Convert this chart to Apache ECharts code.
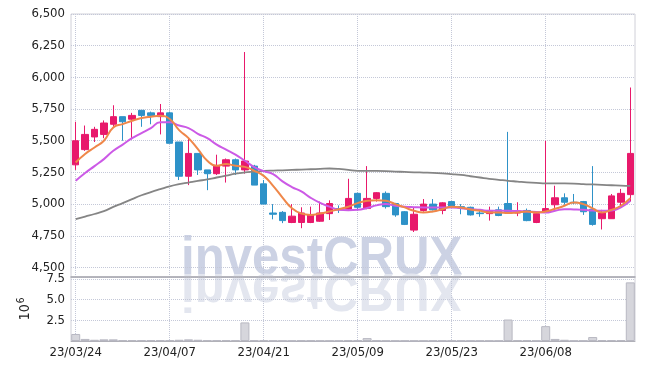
<!DOCTYPE html>
<html>
<head>
<meta charset="utf-8">
<script src="https://cdn.jsdelivr.net/npm/echarts@6/dist/echarts.min.js"></script>
<style>
html, body { margin: 0; padding: 0; background: #fff; }
#chart { width: 645px; height: 370px; }
</style>
</head>
<body>
<div id="chart"></div>
<script>
// 거래일
var dates = ['23/03/24','23/03/27','23/03/28','23/03/29','23/03/30','23/03/31','23/04/03','23/04/04','23/04/05','23/04/06',
    '23/04/07','23/04/10','23/04/11','23/04/12','23/04/13','23/04/14','23/04/17','23/04/18','23/04/19','23/04/20',
    '23/04/21','23/04/24','23/04/25','23/04/26','23/04/27','23/04/28','23/05/02','23/05/03','23/05/04','23/05/08',
    '23/05/09','23/05/10','23/05/11','23/05/12','23/05/15','23/05/16','23/05/17','23/05/18','23/05/19','23/05/22',
    '23/05/23','23/05/24','23/05/25','23/05/26','23/05/30','23/05/31','23/06/01','23/06/02','23/06/05','23/06/07',
    '23/06/08','23/06/09','23/06/12','23/06/13','23/06/14','23/06/15','23/06/16','23/06/19','23/06/20','23/06/21'];

// 시가 / 종가 / 저가 / 고가
var opens = [5310,5430,5530,5550,5630,5690,5670,5740,5720,5690,
    5720,5490,5220,5400,5270,5240,5300,5350,5270,5300,
    5160,4930,4935,4855,4855,4855,4865,4925,4965,4960,
    5085,4965,5045,5085,5005,4940,4795,4950,5000,4950,
    5020,4980,4975,4930,4925,4955,5005,4930,4950,4855,
    4935,4995,5050,5015,5020,4960,4885,4885,5015,5075];
var closes = [5500,5550,5590,5640,5690,5650,5700,5700,5700,5720,
    5480,5220,5400,5270,5240,5300,5350,5270,5340,5150,
    5000,4920,4870,4905,4930,4915,4930,5005,4955,5045,
    4975,5045,5090,4980,4915,4840,4920,5000,4955,5010,
    4980,4970,4915,4925,4950,4910,4940,4945,4870,4925,
    4965,5050,5015,5010,4940,4840,4930,5065,5085,5400];
var lows = [5270,5420,5490,5520,5610,5500,5510,5610,5630,5550,
    5480,5190,5150,5230,5110,5230,5170,5230,5240,5150,
    5000,4880,4850,4850,4810,4850,4860,4875,4930,4955,
    4950,4960,5020,4965,4900,4835,4780,4940,4950,4920,
    4975,4920,4910,4900,4870,4905,4935,4905,4865,4850,
    4930,4970,4995,5000,4915,4830,4800,4885,4990,5020];
var highs = [5650,5620,5610,5660,5780,5690,5720,5740,5730,5790,
    5730,5490,5525,5400,5270,5390,5360,5360,6200,5310,
    5190,5000,4945,5000,4975,4980,5020,5030,4990,5200,
    5090,5300,5095,5100,5010,4945,4975,5040,5040,5015,
    5025,5000,4980,4950,4980,4980,5570,5015,4965,4930,
    5500,5145,5085,5080,5025,5300,4955,5080,5120,5920];

// 이동평균
var ma5 = [5329,5395,5447,5500,5605,5631,5658,5679,5690,5697,
    5671,5584,5521,5434,5342,5302,5316,5302,5294,5263,
    5223,5144,5052,4968,4926,4915,4926,4942,4960,4979,
    5008,5026,5031,5026,5000,4974,4947,4934,4942,4960,
    4979,4974,4958,4947,4934,4934,4929,4934,4942,4934,
    4942,4963,4987,5013,5000,4966,4934,4955,4987,5047];
var ma20 = [5184,5245,5300,5355,5421,5470,5520,5560,5600,5645,
    5645,5620,5600,5555,5520,5470,5430,5390,5342,5292,
    5260,5237,5180,5135,5100,5050,5010,4980,4955,4952,
    4955,4970,4990,5000,4987,4979,4976,4974,4974,4974,
    4974,4968,4960,4955,4947,4947,4947,4945,4942,4938,
    4934,4948,4960,4958,4955,4950,4947,4950,4974,5026];
var ma60 = [4881,4902,4922,4945,4978,5008,5040,5070,5095,5118,
    5140,5157,5170,5183,5195,5210,5225,5240,5250,5256,
    5262,5265,5267,5270,5272,5275,5278,5281,5278,5270,
    5263,5263,5262,5260,5257,5254,5251,5249,5247,5243,
    5237,5230,5220,5210,5200,5192,5184,5178,5172,5167,
    5163,5163,5163,5162,5158,5155,5152,5149,5146,5144];

// 거래량
var volumes = [850000,250000,150000,200000,200000,100000,100000,100000,100000,100000,
    100000,150000,200000,150000,100000,100000,100000,100000,2250000,120000,
    120000,50000,50000,50000,80000,80000,50000,50000,50000,120000,
    80000,350000,80000,50000,50000,50000,50000,50000,50000,50000,
    50000,50000,50000,50000,50000,50000,2600000,100000,100000,50000,
    1800000,250000,150000,50000,50000,480000,120000,120000,120000,7100000];

var priceTicks = [4500,4750,5000,5250,5500,5750,6000,6250,6500];

var candle = [];
for (var i = 0; i < dates.length; i++) {
    candle.push([opens[i], closes[i], lows[i], highs[i]]);
}

var chart = echarts.init(document.getElementById('chart'));

var labelFont = "'DejaVu Sans Condensed', 'Liberation Sans Narrow', sans-serif";
var dotted = { type: 'dotted', color: '#c4c8d8', width: 1 };
var wmFont = 'bold 54px "Liberation Sans", Arial, sans-serif';

var option = {
    animation: false,
    backgroundColor: '#fff',
    graphic: [{
        type: 'group',
        left: 181,
        top: 232,
        z: 0,
        silent: true,
        children: [{
            type: 'text',
            x: 0, y: 0,
            scaleX: 0.91,
            style: { text: 'investCRUX', font: wmFont, fill: '#ccd2e4', verticalAlign: 'top' }
        }, {
            type: 'text',
            x: 0, y: 84,
            scaleX: 0.91, scaleY: -1,
            style: { text: 'investCRUX', font: wmFont, fill: '#e3e6ef', verticalAlign: 'top' }
        }]
    }],
    grid: [
        { left: 71, right: 10, top: 14, height: 263, show: true, borderColor: '#d0d0d8', borderWidth: 1 },
        { left: 71, right: 10, top: 277, height: 64, show: true, borderColor: '#d0d0d8', borderWidth: 1 }
    ],
    xAxis: [{
        type: 'category',
        gridIndex: 0,
        data: dates,
        boundaryGap: true,
        axisLine: { lineStyle: { color: '#a8a8b0', width: 1.5 } },
        axisTick: { show: false },
        axisLabel: { show: false, interval: 9 },
        splitLine: { show: true, interval: 9, alignWithLabel: true, lineStyle: dotted }
    }, {
        type: 'category',
        gridIndex: 1,
        data: dates,
        boundaryGap: true,
        axisLine: { lineStyle: { color: '#b0b0b8' } },
        axisTick: { show: false },
        axisLabel: { interval: 9, margin: 5, fontFamily: labelFont, fontSize: 13, color: '#222' },
        splitLine: { show: true, interval: 9, alignWithLabel: true, lineStyle: dotted }
    }],
    yAxis: [{
        type: 'value',
        gridIndex: 0,
        min: 4425,
        max: 6500,
        axisLine: { show: false },
        axisTick: { show: false, customValues: priceTicks },
        axisLabel: {
            customValues: priceTicks,
            margin: 6,
            fontFamily: labelFont, fontSize: 13, color: '#222',
            formatter: function (v) { return v.toLocaleString('en-US'); }
        },
        splitLine: { show: true, lineStyle: dotted }
    }, {
        type: 'value',
        gridIndex: 1,
        min: 0,
        max: 7750000,
        interval: 2500000,
        name: '{b|10}{s|6}',
        nameLocation: 'middle',
        nameRotate: 90,
        nameGap: 36,
        nameTextStyle: {
            rich: {
                b: { fontFamily: labelFont, fontSize: 14, color: '#222' },
                s: { fontFamily: labelFont, fontSize: 10, color: '#222', padding: [0, 0, 9, 1] }
            }
        },
        axisLine: { show: false },
        axisTick: { show: false },
        axisLabel: {
            showMinLabel: false,
            showMaxLabel: false,
            margin: 6,
            fontFamily: labelFont, fontSize: 13, color: '#222',
            formatter: function (v) { return (v / 1e6).toFixed(1); }
        },
        splitLine: { show: true, lineStyle: dotted }
    }],
    series: [{
        name: 'price',
        type: 'candlestick',
        xAxisIndex: 0,
        yAxisIndex: 0,
        data: candle,
        barWidth: 7,
        itemStyle: {
            color: '#e8196b',
            color0: '#2e92c8',
            borderColor: '#e8196b',
            borderColor0: '#2e92c8',
            borderWidth: 1
        }
    }, {
        name: 'MA60',
        type: 'line',
        data: ma60,
        smooth: true,
        symbol: 'none',
        lineStyle: { color: '#858585', width: 1.8 }
    }, {
        name: 'MA20',
        type: 'line',
        data: ma20,
        smooth: true,
        symbol: 'none',
        lineStyle: { color: '#cc5ae6', width: 2 }
    }, {
        name: 'MA5',
        type: 'line',
        data: ma5,
        smooth: true,
        symbol: 'none',
        lineStyle: { color: '#ef8749', width: 2 }
    }, {
        name: 'volume',
        type: 'bar',
        xAxisIndex: 1,
        yAxisIndex: 1,
        data: volumes,
        barCategoryGap: '4%',
        itemStyle: { color: '#d6d6dc', borderColor: '#b8b8c2', borderWidth: 1 }
    }]
};

chart.setOption(option);
</script>
</body>
</html>
